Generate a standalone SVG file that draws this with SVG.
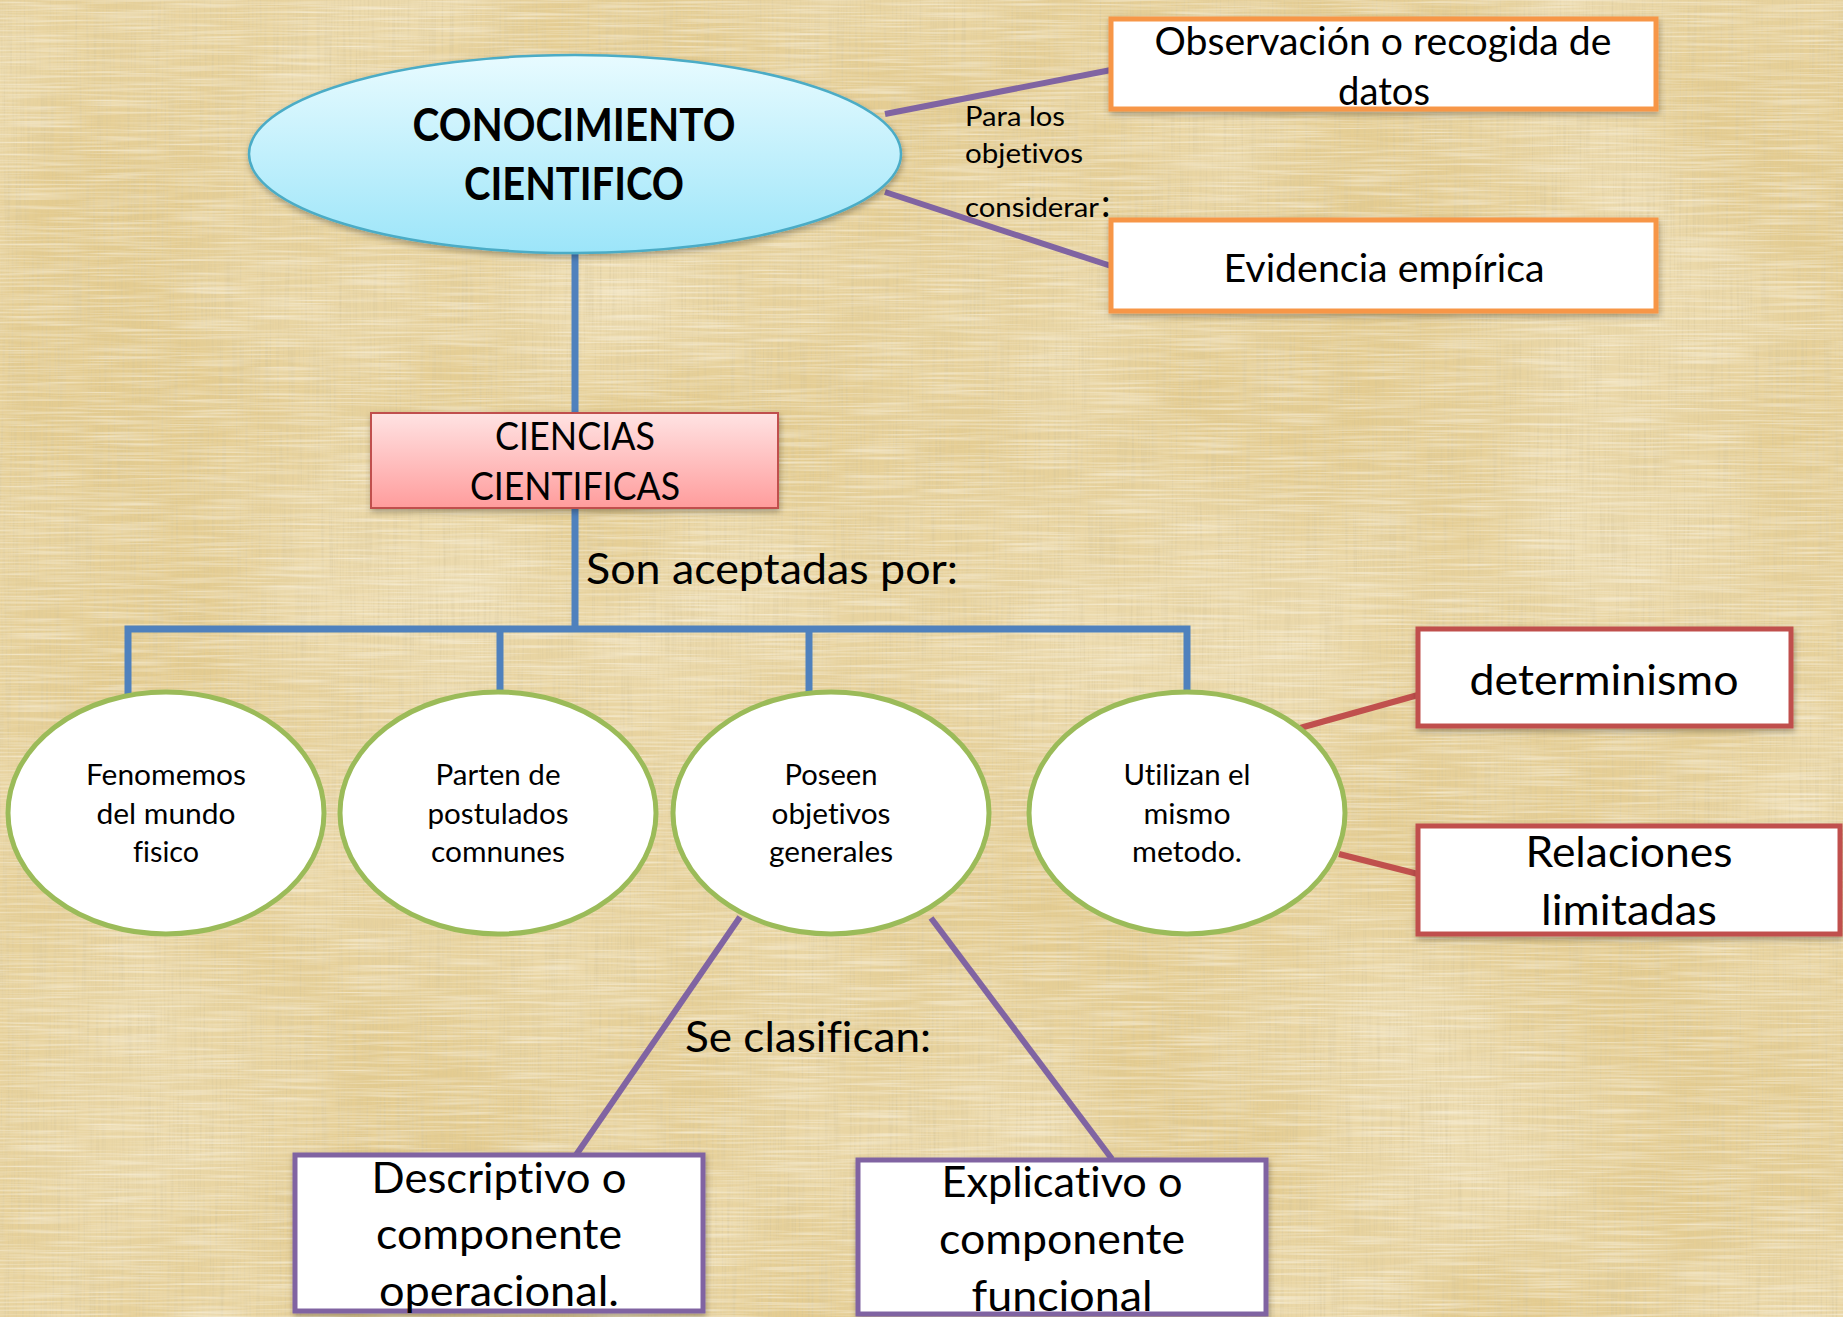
<svg xmlns="http://www.w3.org/2000/svg" width="1843" height="1317" viewBox="0 0 1843 1317">
<defs>
<style>
text{font-family:Lato,"Open Sans","Liberation Sans",sans-serif;fill:#000;font-variant-ligatures:none}
.m{text-anchor:middle}
.title{font-weight:bold;font-size:45px}
.f38{font-size:38px}
.f27{font-size:27px}
.f43{font-size:43px}
.f42{font-size:42px}
.f29{font-size:29px}
.box{fill:#fff;stroke-width:5}
.orange{stroke:#F79646}
.red{stroke:#C0504D}
.purple{stroke:#8064A2}
.circ{fill:#fff;stroke:#9BBB59;stroke-width:5}
.blue{stroke:#4F81BD;stroke-width:7;fill:none;stroke-linejoin:miter}
.pl{stroke:#8064A2;stroke-width:6}
.rl{stroke:#C0504D;stroke-width:6}
</style>
<linearGradient id="gBlue" x1="0" y1="0" x2="0" y2="1"><stop offset="0" stop-color="#E8FBFF"/><stop offset="1" stop-color="#9CE5F9"/></linearGradient>
<linearGradient id="gPink" x1="0" y1="0" x2="0" y2="1"><stop offset="0" stop-color="#FFE3E3"/><stop offset="1" stop-color="#FF9C9C"/></linearGradient>
<filter id="sh" x="-10%" y="-10%" width="120%" height="130%"><feDropShadow dx="1" dy="3" stdDeviation="3" flood-color="#000" flood-opacity="0.3"/></filter>
<filter id="tex" x="0" y="0" width="1" height="1">
<feTurbulence type="fractalNoise" baseFrequency="0.5 0.012" numOctaves="2" seed="2" result="a"/>
<feColorMatrix in="a" type="matrix" values="0 0 0 0 0.66  0 0 0 0 0.55  0 0 0 0 0.3  0 0 0 1.1 -0.45" result="dark"/>
<feTurbulence type="fractalNoise" baseFrequency="0.012 0.5" numOctaves="2" seed="7" result="b"/>
<feColorMatrix in="b" type="matrix" values="0 0 0 0 1  0 0 0 0 0.97  0 0 0 0 0.88  0 0 0 1.1 -0.45" result="light"/>
<feTurbulence type="fractalNoise" baseFrequency="0.004 0.004" numOctaves="2" seed="11" result="c"/>
<feColorMatrix in="c" type="matrix" values="0 0 0 0 0.95  0 0 0 0 0.88  0 0 0 0 0.7  0 0 0 0.9 -0.3" result="blot"/>
<feMerge><feMergeNode in="blot"/><feMergeNode in="dark"/><feMergeNode in="light"/></feMerge>
</filter>
</defs>

<g id="background">
<rect width="1843" height="1317" fill="#E4CC91"/>
<rect width="1843" height="1317" fill="#fff" filter="url(#tex)"/>
</g>

<g id="connectors">
<line class="pl" x1="885" y1="114" x2="1111" y2="70"/>
<line class="pl" x1="885" y1="192" x2="1111" y2="266"/>
<line class="blue" x1="575" y1="250" x2="575" y2="629"/>
<polyline class="blue" points="128,694 128,629 1187,629 1187,694"/>
<line class="blue" x1="500" y1="629" x2="500" y2="694"/>
<line class="blue" x1="809" y1="629" x2="809" y2="694"/>
<line class="rl" x1="1300" y1="728" x2="1418" y2="695"/>
<line class="rl" x1="1339" y1="854" x2="1418" y2="874"/>
<line class="pl" x1="740" y1="917" x2="576" y2="1155"/>
<line class="pl" x1="931" y1="918" x2="1112" y2="1159"/>
</g>

<g id="n-main">
<ellipse cx="575" cy="154" rx="326" ry="99" fill="url(#gBlue)" stroke="#4BACC6" stroke-width="2.5" filter="url(#sh)"/>
<text class="m title" x="574" y="141" textLength="323" lengthAdjust="spacingAndGlyphs">CONOCIMIENTO</text>
<text class="m title" x="574" y="200" textLength="220" lengthAdjust="spacingAndGlyphs">CIENTIFICO</text>
</g>

<g id="n-obs">
<rect class="box orange" x="1111" y="19" width="545" height="90" filter="url(#sh)"/>
<text class="m f38" x="1383" y="55" textLength="457" lengthAdjust="spacingAndGlyphs">Observación o recogida de</text>
<text class="m f38" x="1384" y="105" textLength="92" lengthAdjust="spacingAndGlyphs">datos</text>
</g>

<g id="n-evid">
<rect class="box orange" x="1111" y="220" width="545" height="91" filter="url(#sh)"/>
<text class="m f38" x="1384" y="282" textLength="321" lengthAdjust="spacingAndGlyphs">Evidencia empírica</text>
</g>

<g id="lbl-objetivos">
<text class="f27" x="965" y="126" textLength="100" lengthAdjust="spacingAndGlyphs">Para los</text>
<text class="f27" x="965" y="163" textLength="118" lengthAdjust="spacingAndGlyphs">objetivos</text>
<text class="f27" x="965" y="217" textLength="134" lengthAdjust="spacingAndGlyphs">considerar</text>
<text x="1101" y="217" style="font-size:38px">:</text>
</g>

<g id="n-ciencias">
<rect x="371" y="413" width="407" height="95" fill="url(#gPink)" stroke="#C0504D" stroke-width="2" filter="url(#sh)"/>
<text class="m f38" x="575" y="450" textLength="160" lengthAdjust="spacingAndGlyphs">CIENCIAS</text>
<text class="m f38" x="575" y="500" textLength="210" lengthAdjust="spacingAndGlyphs">CIENTIFICAS</text>
</g>

<g id="lbl-aceptadas">
<text class="f43" x="586" y="584" textLength="372" lengthAdjust="spacingAndGlyphs">Son aceptadas por:</text>
</g>

<g id="n-c1">
<ellipse class="circ" cx="166" cy="813" rx="158" ry="121"/>
<text class="m f29" x="166" y="785" textLength="160" lengthAdjust="spacingAndGlyphs">Fenomemos</text>
<text class="m f29" x="166" y="824" textLength="139" lengthAdjust="spacingAndGlyphs">del mundo</text>
<text class="m f29" x="166" y="862" textLength="66" lengthAdjust="spacingAndGlyphs">fisico</text>
</g>

<g id="n-c2">
<ellipse class="circ" cx="498" cy="813" rx="158" ry="121"/>
<text class="m f29" x="498" y="785" textLength="125" lengthAdjust="spacingAndGlyphs">Parten de</text>
<text class="m f29" x="498" y="824" textLength="141" lengthAdjust="spacingAndGlyphs">postulados</text>
<text class="m f29" x="498" y="862" textLength="134" lengthAdjust="spacingAndGlyphs">comnunes</text>
</g>

<g id="n-c3">
<ellipse class="circ" cx="831" cy="813" rx="158" ry="121"/>
<text class="m f29" x="831" y="785" textLength="93" lengthAdjust="spacingAndGlyphs">Poseen</text>
<text class="m f29" x="831" y="824" textLength="119" lengthAdjust="spacingAndGlyphs">objetivos</text>
<text class="m f29" x="831" y="862" textLength="124" lengthAdjust="spacingAndGlyphs">generales</text>
</g>

<g id="n-c4">
<ellipse class="circ" cx="1187" cy="813" rx="158" ry="121"/>
<text class="m f29" x="1187" y="785" textLength="127" lengthAdjust="spacingAndGlyphs">Utilizan el</text>
<text class="m f29" x="1187" y="824" textLength="87" lengthAdjust="spacingAndGlyphs">mismo</text>
<text class="m f29" x="1187" y="862" textLength="110" lengthAdjust="spacingAndGlyphs">metodo.</text>
</g>

<g id="n-det">
<rect class="box red" x="1418" y="629" width="373" height="97" filter="url(#sh)"/>
<text class="m f42" x="1604" y="695" textLength="269" lengthAdjust="spacingAndGlyphs">determinismo</text>
</g>

<g id="n-rel">
<rect class="box red" x="1418" y="826" width="422" height="108" filter="url(#sh)"/>
<text class="m f42" x="1629" y="867" textLength="207" lengthAdjust="spacingAndGlyphs">Relaciones</text>
<text class="m f42" x="1629" y="925" textLength="176" lengthAdjust="spacingAndGlyphs">limitadas</text>
</g>

<g id="lbl-clasifican">
<text class="f42" x="685" y="1052" textLength="246" lengthAdjust="spacingAndGlyphs">Se clasifican:</text>
</g>

<g id="n-desc">
<rect class="box purple" x="295" y="1155" width="408" height="156" filter="url(#sh)"/>
<text class="m f42" x="499" y="1193" textLength="255" lengthAdjust="spacingAndGlyphs">Descriptivo o</text>
<text class="m f42" x="499" y="1249" textLength="246" lengthAdjust="spacingAndGlyphs">componente</text>
<text class="m f42" x="499" y="1306" textLength="240" lengthAdjust="spacingAndGlyphs">operacional.</text>
</g>

<g id="n-expl">
<rect class="box purple" x="858" y="1160" width="408" height="154" filter="url(#sh)"/>
<text class="m f42" x="1062" y="1197" textLength="241" lengthAdjust="spacingAndGlyphs">Explicativo o</text>
<text class="m f42" x="1062" y="1254" textLength="246" lengthAdjust="spacingAndGlyphs">componente</text>
<text class="m f42" x="1062" y="1311" textLength="181" lengthAdjust="spacingAndGlyphs">funcional</text>
</g>
</svg>
